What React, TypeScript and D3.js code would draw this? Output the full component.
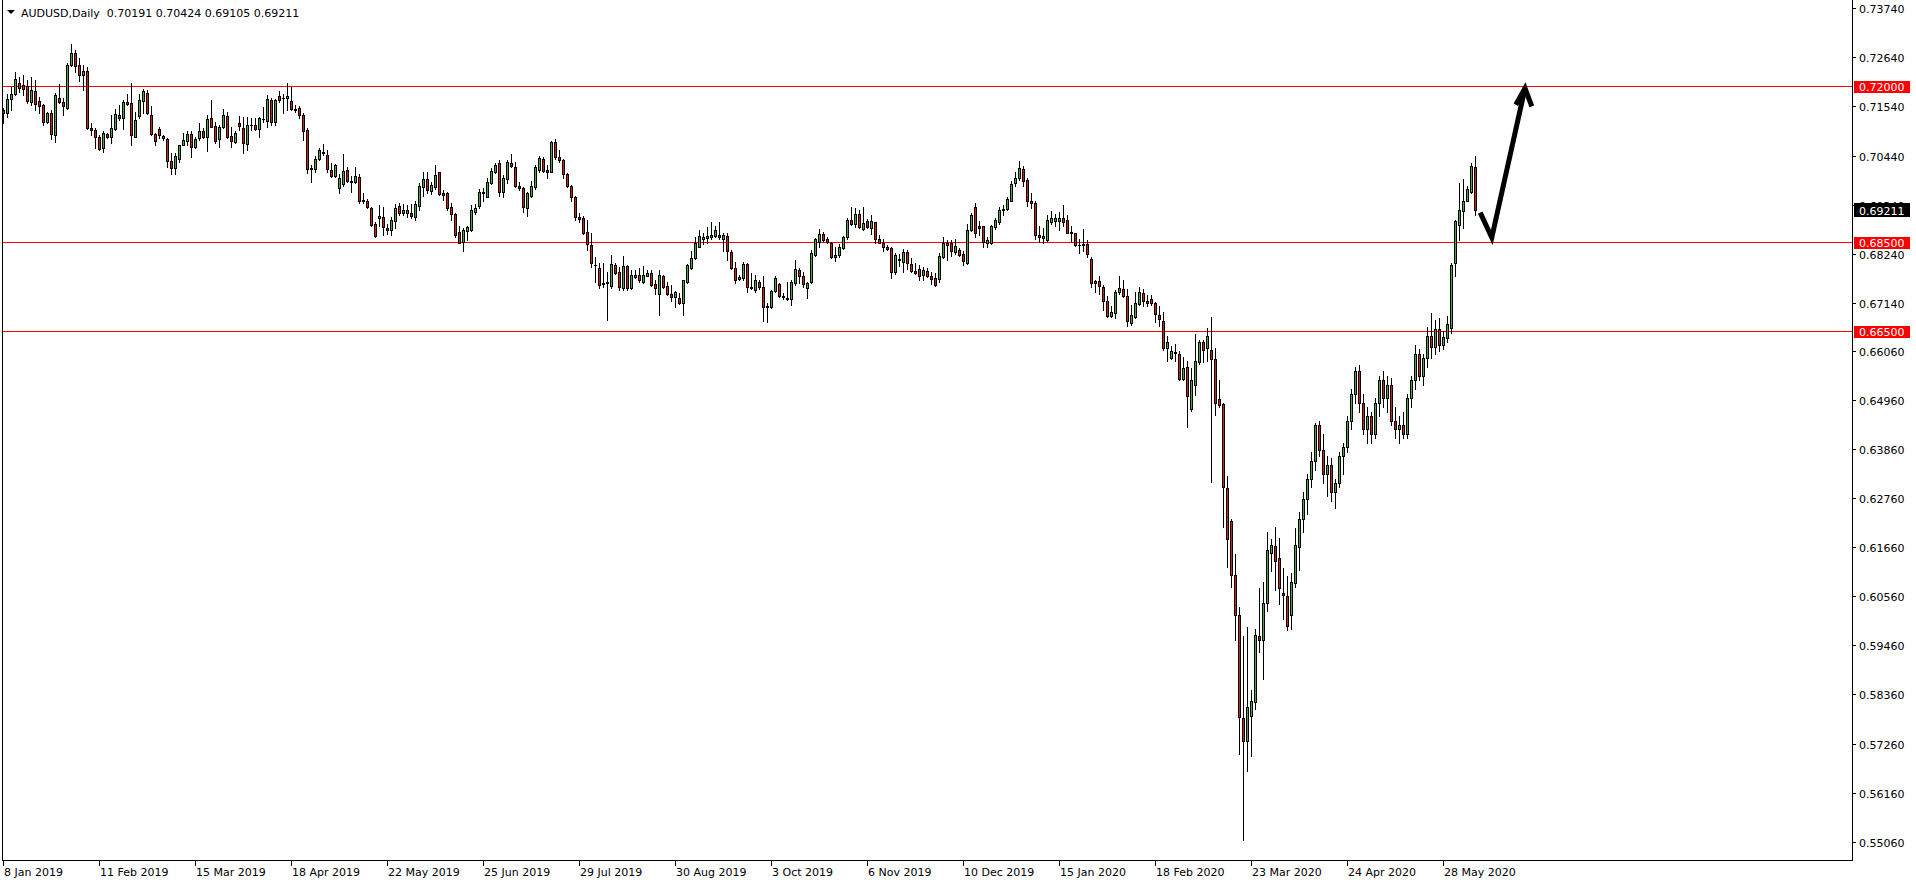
import React from "react";
import * as d3 from "d3";

// ---- Data ----
const opens = [
  .7146,.7139,.7170,.7183,.7207,.7202,.7200,.7165,.7189,.7166,
  .7157,.7120,.7139,.7089,.7174,.7164,.7151,.7246,.7273,.7246,
  .7224,.7233,.7105,.7102,.7086,.7060,.7092,.7086,.7103,.7135,
  .7127,.7164,.7161,.7086,.7133,.7166,.7185,.7135,.7092,.7104,
  .7088,.7081,.7031,.7015,.7037,.7068,.7077,.7092,.7064,.7083,
  .7099,.7086,.7127,.7110,.7082,.7109,.7133,.7088,.7075,.7116,
  .7105,.7069,.7112,.7112,.7103,.7125,.7122,.7168,.7120,.7177,
  .7174,.7172,.7166,.7148,.7150,.7135,.7101,.7013,.7013,.7036,
  .7053,.7045,.7012,.6997,.6971,.6980,.7012,.6988,.6985,.6995,
  .6944,.6941,.6926,.6891,.6903,.6906,.6882,.6877,.6898,.6931,
  .6915,.6916,.6916,.6907,.6931,.6974,.6991,.6965,.6973,.7006,
  .6959,.6959,.6928,.6913,.6872,.6851,.6874,.6876,.6918,.6930,
  .6961,.6952,.6982,.7006,.7027,.6963,.6992,.7027,.7018,.6976,
  .6971,.6926,.6953,.6974,.7012,.7036,.7012,.7008,.7074,.7040,
  .7034,.7003,.6976,.6952,.6907,.6903,.6873,.6844,.6799,.6793,
  .6755,.6758,.6752,.6799,.6783,.6746,.6796,.6746,.6772,.6776,
  .6761,.6774,.6781,.6755,.6734,.6774,.6752,.6734,.6726,.6725,
  .6713,.6760,.6791,.6814,.6840,.6858,.6859,.6861,.6864,.6866,
  .6858,.6864,.6828,.6792,.6768,.6769,.6801,.6749,.6743,.6761,
  .6750,.6707,.6705,.6740,.6756,.6730,.6725,.6722,.6758,.6788,
  .6774,.6746,.6760,.6822,.6851,.6868,.6856,.6849,.6816,.6820,
  .6836,.6861,.6900,.6891,.6913,.6879,.6897,.6881,.6894,.6856,
  .6849,.6838,.6836,.6782,.6812,.6806,.6828,.6801,.6785,.6789,
  .6776,.6785,.6774,.6770,.6768,.6817,.6847,.6847,.6828,.6832,
  .6823,.6804,.6876,.6928,.6886,.6885,.6849,.6849,.6883,.6894,
  .6921,.6924,.6943,.6983,.6993,.7013,.6989,.6943,.6938,.6866,
  .6859,.6855,.6896,.6898,.6898,.6903,.6900,.6873,.6870,.6844,
  .6846,.6846,.6811,.6762,.6762,.6750,.6719,.6684,.6690,.6737,
  .6744,.6729,.6668,.6683,.6711,.6736,.6718,.6723,.6714,.6687,
  .6673,.6613,.6591,.6601,.6600,.6543,.6569,.6476,.6530,.6582,
  .6626,.6612,.6608,.6588,.6498,.6486,.6298,.6225,.6103,.6014,
  .5783,.5732,.5787,.5820,.5968,.5957,.6040,.6152,.6168,.6142,
  .6063,.6056,.6014,.6085,.6166,.6229,.6275,.6320,.6360,.6440,
  .6385,.6330,.6350,.6290,.6310,.6370,.6390,.6450,.6510,.6560,
  .6490,.6430,.6460,.6420,.6490,.6540,.6500,.6530,.6450,.6430,
  .6440,.6420,.6500,.6540,.6600,.6550,.6590,.6640,.6615,.6655,
  .6620,.6634,.6657,.6802,.6888,.6920,.6942,.6963,.70191
];

const highs = [
  .7150,.7183,.7198,.7232,.7221,.7225,.7213,.7219,.7213,.7176,
  .7160,.7142,.7146,.7185,.7204,.7172,.7251,.7294,.7281,.7262,
  .7247,.7243,.7116,.7105,.7090,.7098,.7094,.7135,.7149,.7157,
  .7168,.7183,.7206,.7142,.7183,.7192,.7191,.7154,.7094,.7107,
  .7090,.7083,.7049,.7050,.7068,.7094,.7098,.7098,.7086,.7116,
  .7105,.7135,.7168,.7120,.7112,.7148,.7142,.7109,.7098,.7133,
  .7130,.7131,.7127,.7127,.7130,.7152,.7180,.7172,.7171,.7189,
  .7183,.7206,.7198,.7157,.7154,.7139,.7105,.7023,.7042,.7060,
  .7070,.7056,.7028,.7025,.7003,.7048,.7019,.6998,.7019,.7003,
  .6959,.6947,.6929,.6894,.6933,.6928,.6891,.6907,.6935,.6937,
  .6935,.6933,.6935,.6941,.6983,.7006,.7008,.6985,.7023,.7008,
  .6967,.6962,.6937,.6915,.6885,.6881,.6886,.6933,.6935,.6968,
  .6971,.6993,.7015,.7028,.7034,.7000,.7034,.7048,.7030,.6985,
  .6973,.6963,.6988,.7023,.7042,.7040,.7023,.7077,.7080,.7056,
  .7036,.7004,.6978,.6953,.6915,.6909,.6900,.6870,.6817,.6803,
  .6802,.6784,.6821,.6802,.6795,.6819,.6799,.6788,.6788,.6791,
  .6796,.6788,.6788,.6765,.6788,.6776,.6761,.6754,.6741,.6735,
  .6765,.6800,.6829,.6862,.6876,.6870,.6883,.6894,.6885,.6894,
  .6870,.6870,.6832,.6806,.6776,.6806,.6802,.6780,.6776,.6764,
  .6773,.6713,.6743,.6773,.6759,.6735,.6761,.6765,.6810,.6791,
  .6784,.6761,.6832,.6859,.6879,.6873,.6861,.6851,.6840,.6846,
  .6864,.6903,.6929,.6926,.6922,.6928,.6901,.6911,.6896,.6866,
  .6856,.6844,.6840,.6825,.6823,.6834,.6832,.6814,.6802,.6799,
  .6795,.6791,.6784,.6780,.6825,.6861,.6855,.6855,.6856,.6836,
  .6829,.6891,.6915,.6938,.6898,.6886,.6861,.6888,.6903,.6929,
  .6933,.6952,.6988,.7006,.7032,.7021,.6993,.6959,.6941,.6886,
  .6881,.6911,.6920,.6913,.6918,.6933,.6911,.6886,.6871,.6856,
  .6879,.6855,.6816,.6765,.6773,.6754,.6729,.6707,.6743,.6774,
  .6765,.6744,.6709,.6737,.6750,.6745,.6731,.6732,.6716,.6706,
  .6693,.6639,.6618,.6622,.6606,.6592,.6584,.6568,.6644,.6631,
  .6631,.6657,.6683,.6612,.6541,.6490,.6325,.6229,.6150,.6032,
  .5966,.5987,.5846,.5983,.6074,.6089,.6201,.6185,.6212,.6186,
  .6120,.6101,.6109,.6209,.6245,.6290,.6330,.6380,.6445,.6448,
  .6420,.6370,.6365,.6320,.6380,.6400,.6460,.6520,.6570,.6575,
  .6510,.6480,.6470,.6500,.6550,.6560,.6550,.6545,.6480,.6460,
  .6470,.6510,.6550,.6620,.6610,.6600,.6660,.6690,.6675,.6679,
  .6650,.6684,.6803,.6900,.6983,.6991,.6976,.7028,.70424
];

const lows = [
  .7116,.7131,.7146,.7180,.7187,.7180,.7161,.7157,.7146,.7139,
  .7113,.7116,.7080,.7075,.7161,.7135,.7148,.7245,.7232,.7210,
  .7191,.7103,.7090,.7060,.7056,.7053,.7083,.7071,.7101,.7124,
  .7103,.7157,.7068,.7085,.7127,.7139,.7137,.7090,.7068,.7083,
  .7079,.7019,.7003,.7002,.7030,.7068,.7068,.7040,.7060,.7079,
  .7083,.7055,.7107,.7071,.7064,.7105,.7083,.7062,.7073,.7101,
  .7050,.7057,.7101,.7101,.7086,.7120,.7109,.7113,.7113,.7165,
  .7139,.7146,.7146,.7142,.7127,.7079,.7004,.6985,.7006,.7034,
  .7045,.7006,.6995,.6995,.6961,.6976,.6985,.6963,.6983,.6938,
  .6938,.6926,.6885,.6862,.6885,.6866,.6868,.6866,.6881,.6911,
  .6911,.6907,.6903,.6900,.6922,.6953,.6961,.6958,.6968,.6956,
  .6944,.6922,.6900,.6861,.6847,.6831,.6855,.6874,.6913,.6926,
  .6941,.6950,.6980,.7004,.6953,.6952,.6982,.7019,.6974,.6967,
  .6918,.6909,.6952,.6968,.7008,.7006,.6993,.7006,.7036,.7030,
  .6993,.6973,.6941,.6900,.6896,.6868,.6832,.6795,.6761,.6746,
  .6749,.6675,.6746,.6779,.6743,.6743,.6743,.6744,.6769,.6761,
  .6759,.6773,.6752,.6734,.6687,.6746,.6732,.6717,.6705,.6711,
  .6687,.6758,.6789,.6812,.6838,.6846,.6847,.6858,.6861,.6858,
  .6829,.6810,.6789,.6759,.6764,.6765,.6739,.6744,.6739,.6744,
  .6672,.6670,.6702,.6737,.6726,.6722,.6720,.6709,.6754,.6758,
  .6750,.6724,.6758,.6819,.6838,.6853,.6847,.6814,.6808,.6817,
  .6834,.6858,.6889,.6883,.6881,.6876,.6881,.6868,.6847,.6847,
  .6831,.6832,.6769,.6779,.6797,.6784,.6789,.6782,.6779,.6765,
  .6765,.6771,.6756,.6752,.6761,.6814,.6810,.6819,.6823,.6819,
  .6799,.6801,.6874,.6861,.6866,.6838,.6838,.6846,.6879,.6891,
  .6911,.6922,.6941,.6976,.6989,.6976,.6930,.6926,.6856,.6851,
  .6849,.6853,.6891,.6885,.6876,.6886,.6870,.6853,.6841,.6826,
  .6829,.6816,.6750,.6737,.6734,.6698,.6681,.6683,.6679,.6734,
  .6726,.6661,.6664,.6679,.6709,.6706,.6706,.6710,.6671,.6663,
  .6609,.6584,.6587,.6584,.6541,.6541,.6435,.6472,.6508,.6576,
  .6582,.6584,.6313,.6462,.6481,.6212,.6121,.6078,.5958,.5703,
  .5510,.5665,.5699,.5803,.5932,.5870,.6023,.6113,.6071,.6038,
  .6005,.5981,.5983,.6076,.6115,.6200,.6240,.6300,.6340,.6370,
  .6310,.6280,.6270,.6255,.6300,.6330,.6380,.6430,.6490,.6470,
  .6420,.6400,.6400,.6410,.6460,.6480,.6470,.6440,.6410,.6400,
  .6410,.6410,.6480,.6520,.6540,.6530,.6570,.6590,.6600,.6605,
  .6610,.6625,.6647,.6773,.6855,.6881,.6941,.6961,.69105
];

const closes = [
  .7139,.7170,.7183,.7215,.7195,.7192,.7167,.7191,.7160,.7156,
  .7120,.7139,.7092,.7180,.7163,.7154,.7247,.7273,.7245,.7224,
  .7233,.7105,.7101,.7086,.7059,.7094,.7086,.7105,.7136,.7129,
  .7164,.7160,.7089,.7124,.7168,.7189,.7139,.7092,.7076,.7089,
  .7083,.7031,.7015,.7043,.7067,.7079,.7092,.7064,.7080,.7099,
  .7085,.7126,.7109,.7077,.7109,.7134,.7085,.7077,.7094,.7111,
  .7071,.7112,.7113,.7103,.7127,.7125,.7171,.7120,.7168,.7168,
  .7172,.7177,.7148,.7147,.7135,.7100,.7013,.7015,.7036,.7056,
  .7049,.7013,.6997,.7023,.6993,.7009,.6988,.6985,.6998,.6943,
  .6941,.6928,.6888,.6864,.6909,.6883,.6877,.6900,.6926,.6915,
  .6922,.6922,.6909,.6935,.6976,.6991,.6967,.6978,.7000,.6958,
  .6956,.6926,.6913,.6866,.6849,.6876,.6883,.6922,.6927,.6962,
  .6962,.6985,.7009,.7023,.6963,.6993,.7029,.7021,.6976,.6971,
  .6928,.6959,.6976,.7018,.7038,.7010,.7008,.7075,.7040,.7034,
  .7003,.6976,.6952,.6907,.6901,.6871,.6846,.6803,.6798,.6753,
  .6759,.6760,.6801,.6781,.6749,.6796,.6746,.6776,.6776,.6764,
  .6776,.6781,.6754,.6746,.6776,.6750,.6733,.6728,.6737,.6714,
  .6764,.6799,.6815,.6847,.6864,.6861,.6864,.6866,.6877,.6862,
  .6866,.6829,.6791,.6764,.6772,.6801,.6749,.6746,.6765,.6749,
  .6704,.6704,.6740,.6770,.6729,.6727,.6722,.6761,.6790,.6775,
  .6755,.6758,.6825,.6856,.6868,.6855,.6851,.6816,.6821,.6838,
  .6861,.6900,.6891,.6913,.6883,.6892,.6883,.6897,.6858,.6849,
  .6840,.6835,.6784,.6820,.6809,.6828,.6802,.6786,.6781,.6775,
  .6788,.6774,.6768,.6754,.6819,.6847,.6844,.6831,.6841,.6821,
  .6807,.6877,.6911,.6871,.6882,.6850,.6855,.6886,.6900,.6922,
  .6924,.6947,.6980,.6994,.7015,.6988,.6943,.6938,.6866,.6862,
  .6864,.6900,.6903,.6903,.6905,.6896,.6871,.6870,.6844,.6843,
  .6843,.6823,.6759,.6759,.6752,.6719,.6684,.6693,.6738,.6746,
  .6729,.6672,.6687,.6713,.6737,.6718,.6713,.6713,.6688,.6677,
  .6612,.6625,.6605,.6604,.6543,.6568,.6504,.6540,.6584,.6626,
  .6609,.6639,.6587,.6490,.6485,.6300,.6184,.6103,.6014,.5785,
  .5732,.5807,.5821,.5969,.5957,.6040,.6160,.6170,.6136,.6074,
  .6058,.5989,.6087,.6170,.6229,.6275,.6320,.6360,.6440,.6385,
  .6330,.6350,.6290,.6310,.6370,.6390,.6450,.6510,.6560,.6490,
  .6430,.6460,.6420,.6490,.6540,.6500,.6530,.6450,.6430,.6440,
  .6420,.6500,.6540,.6600,.6550,.6590,.6640,.6615,.6655,.6620,
  .6637,.6666,.6799,.6898,.6922,.6942,.6968,.7021,.69211
];

const priceTickLabels = [
  "0.73740","0.72640","0.71540","0.70440","0.69340","0.68240","0.67140",
  "0.66060","0.64960","0.63860","0.62760","0.61660","0.60560","0.59460",
  "0.58360","0.57260","0.56160","0.55060"
];

const dateLabels = [
  "8 Jan 2019","11 Feb 2019","15 Mar 2019","18 Apr 2019","22 May 2019",
  "25 Jun 2019","29 Jul 2019","30 Aug 2019","3 Oct 2019","6 Nov 2019",
  "10 Dec 2019","15 Jan 2020","18 Feb 2020","23 Mar 2020","24 Apr 2020",
  "28 May 2020"
];
const dateLabelBars = [0,24,48,72,96,120,144,168,192,216,240,264,288,312,336,360];

const levelPrices = [0.72, 0.685, 0.665];
const levelLabels = ["0.72000", "0.68500", "0.66500"];
const lastPrice = 0.69211;
const lastPriceLabel = "0.69211";
const headerText = "AUDUSD,Daily  0.70191 0.70424 0.69105 0.69211";

// annotation arrow, in (bar index, price) terms
const arrowBars = [369.3, 372.2, 380.5];
const arrowPrices = [0.6916, 0.6860, 0.7195];
const arrowHeadBars = [378.2, 380.5, 382.2];
const arrowHeadPrices = [0.7158, 0.7195, 0.7154];

const BULL = "#41ab41";
const BEAR = "#d41e1e";
const FONT = "'DejaVu Sans', Tahoma, sans-serif";

export default function App() {
  const W = 1916, H = 884;
  const plotLeft = 2, plotRight = 1852, plotBottom = 860;
  const x = d3.scaleLinear().domain([0, 368]).range([3, 3 + 4 * 368]);
  const y = d3.scaleLinear().domain([0.5506, 0.7374]).range([841.7, 8.3]);

  const candles = opens.map((o, i) => {
    const c = closes[i], h = highs[i], l = lows[i];
    const cx = Math.round(x(i));
    const yT = Math.round(y(Math.max(o, c)));
    const yB = Math.round(y(Math.min(o, c)));
    const yH = Math.round(y(h));
    const yL = Math.round(y(l));
    const bull = c >= o;
    return (
      <g key={i}>
        <line x1={cx + 0.5} x2={cx + 0.5} y1={yH} y2={yL + 1} stroke="#000" strokeWidth={1} />
        {yB - yT >= 1 ? (
          <rect x={cx - 0.5} y={yT + 0.5} width={2} height={yB - yT}
            fill={bull ? BULL : BEAR} stroke="#000" strokeWidth={1} />
        ) : (
          <line x1={cx - 1} x2={cx + 2} y1={yT + 0.5} y2={yT + 0.5} stroke="#000" strokeWidth={1} />
        )}
      </g>
    );
  });

  const arrowLine = d3.line<number>().x((_, i) => x(arrowBars[i])).y((p) => y(p));
  const headLine = d3.line<number>().x((_, i) => x(arrowHeadBars[i])).y((p) => y(p));

  return (
    <svg width={W} height={H} style={{ position: "absolute", left: 0, top: 0, background: "#fff" }}
      fontFamily={FONT}>
      <rect x={0} y={0} width={W} height={H} fill="#fff" />
      {/* header */}
      <polygon points="7,10 15,10 11,14" fill="#000" />
      <text x={21} y={17} fontSize={11} fill="#000" style={{ whiteSpace: "pre" }}>{headerText}</text>

      {/* horizontal levels */}
      <g shapeRendering="crispEdges">
        {levelPrices.map((p, i) => (
          <line key={i} x1={plotLeft} x2={plotRight} y1={Math.round(y(p)) + 0.5} y2={Math.round(y(p)) + 0.5}
            stroke="#ff0000" strokeWidth={1} />
        ))}
      </g>

      {/* candles */}
      <g shapeRendering="crispEdges">{candles}</g>

      {/* arrow */}
      <path d={arrowLine(arrowPrices) || ""} fill="none" stroke="#000" strokeWidth={5} strokeLinejoin="miter" strokeLinecap="butt" />
      <path d={headLine(arrowHeadPrices) || ""} fill="none" stroke="#000" strokeWidth={5} strokeLinejoin="miter" strokeLinecap="butt" />

      {/* frame */}
      <g shapeRendering="crispEdges" stroke="#000" strokeWidth={1}>
        <line x1={plotLeft + 0.5} x2={plotLeft + 0.5} y1={0} y2={plotBottom + 1} />
        <line x1={plotRight + 0.5} x2={plotRight + 0.5} y1={0} y2={plotBottom + 1} />
        <line x1={plotLeft} x2={plotRight + 1} y1={plotBottom + 0.5} y2={plotBottom + 0.5} />
      </g>

      {/* price axis */}
      <g shapeRendering="crispEdges">
        {priceTickLabels.map((t) => {
          const yy = Math.round(y(parseFloat(t)));
          return (
            <g key={t}>
              <line x1={plotRight} x2={plotRight + 4} y1={yy + 0.5} y2={yy + 0.5} stroke="#000" />
              <text x={1859} y={yy + 4.5} fontSize={11} fill="#000">{t}</text>
            </g>
          );
        })}
      </g>
      {levelPrices.map((p, i) => {
        const yy = Math.round(y(p));
        return (
          <g key={"lv" + i}>
            <rect x={1854} y={yy - 5} width={56} height={12} fill="#ff0000" />
            <text x={1859} y={yy + 5} fontSize={11} fill="#fff">{levelLabels[i]}</text>
          </g>
        );
      })}
      {(() => {
        const yy = Math.round(y(lastPrice));
        return (
          <g>
            <rect x={1854} y={yy - 7} width={56} height={14} fill="#000" />
            <text x={1859} y={yy + 4.5} fontSize={11} fill="#fff">{lastPriceLabel}</text>
          </g>
        );
      })()}

      {/* date axis */}
      <g>
        {dateLabels.map((d, i) => {
          const xx = Math.round(x(dateLabelBars[i]));
          return (
            <g key={d}>
              <line x1={xx + 0.5} x2={xx + 0.5} y1={plotBottom} y2={plotBottom + 6} stroke="#000" shapeRendering="crispEdges" />
              <text x={xx + 1} y={876} fontSize={11} fill="#000">{d}</text>
            </g>
          );
        })}
      </g>
    </svg>
  );
}
